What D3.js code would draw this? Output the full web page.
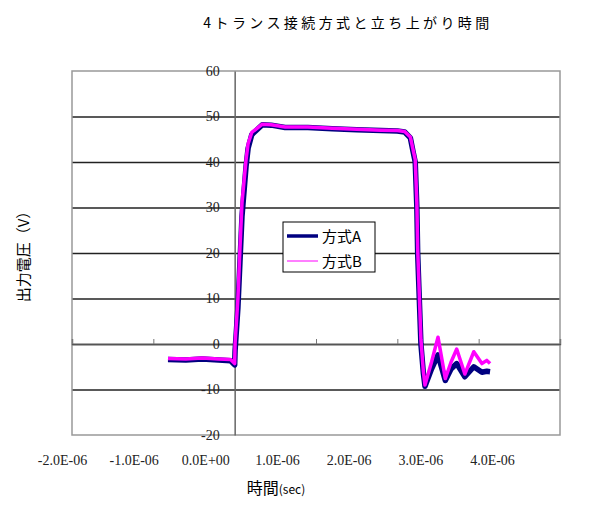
<!DOCTYPE html>
<html>
<head>
<meta charset="utf-8">
<script src="https://cdn.jsdelivr.net/npm/d3@7"></script>
<style>
body { margin: 0; background: #fff; }
text { font-family: "Liberation Serif", serif; }
.jp { font-family: "Noto Sans CJK JP", sans-serif; }
</style>
</head>
<body>
<svg width="595" height="509"></svg>
<script>
var timeUs = [-0.82, -0.6, -0.4, -0.2, -0.05, 0, 0.005, 0.04, 0.065, 0.09, 0.14, 0.165, 0.21, 0.34,
              0.45, 0.62, 0.9, 1.2, 1.5, 1.8, 2.0, 2.09, 2.16, 2.19, 2.22, 2.24, 2.25, 2.27, 2.29,
              2.32, 2.34, 2.42, 2.5, 2.59, 2.66, 2.73, 2.83, 2.94, 3.04, 3.1, 3.14];
var seriesA = [-3.4, -3.5, -3.3, -3.5, -3.7, -4.6, -1.5, 8, 18, 28, 39, 43, 46, 48.2,
               48.1, 47.6, 47.6, 47.3, 47.1, 46.9, 46.8, 46.6, 45.3, 42.6, 40, 30, 20, 10, 0,
               -6.4, -9.3, -5.5, -2.4, -8.0, -5.5, -4.3, -7.2, -5.0, -6.2, -6.0, -6.1];
var seriesB = [-3.2, -3.3, -3.1, -3.3, -3.4, -4.3, 0, 10, 21, 31, 40.5, 44, 46.5, 48.3,
               48.2, 47.7, 47.7, 47.4, 47.2, 47.0, 46.9, 46.7, 45.5, 43, 40.5, 31, 21, 11, 1,
               -6, -9.0, -4, 1.5, -7.6, -4, -1.1, -6.6, -1.7, -4.3, -3.6, -4.3];
var seriesNames = ["方式A", "方式B"];
var xTicks = [-2e-6, -1e-6, 0, 1e-6, 2e-6, 3e-6, 4e-6];
var yTicks = [-20, -10, 0, 10, 20, 30, 40, 50, 60];

var svg = d3.select("svg");
var plotLeft = 72, plotRight = 560, plotTop = 71, plotBottom = 435;

var x = d3.scaleLinear().domain([-2e-6, 4e-6]).range([plotLeft, plotRight]);
var xLabel = d3.scaleLinear().domain([-2e-6, 4e-6]).range([62, 492]);
var y = d3.scaleLinear().domain([-20, 60]).range([plotBottom, plotTop]);

// gridlines
svg.append("g")
   .attr("transform", "translate(" + plotLeft + ",0)")
   .call(d3.axisRight(y).tickValues(yTicks.slice(1, -1)).tickSize(plotRight - plotLeft).tickFormat(""))
   .call(function(g) { g.select(".domain").remove(); })
   .selectAll("line")
   .attr("stroke", "#222")
   .attr("stroke-width", 1.4);

svg.append("rect")
   .attr("x", plotLeft).attr("y", plotTop)
   .attr("width", plotRight - plotLeft).attr("height", plotBottom - plotTop)
   .attr("fill", "none")
   .attr("stroke", "#999")
   .attr("stroke-width", 1.5);

// zero line with ticks
svg.append("g")
   .attr("transform", "translate(0," + y(0) + ")")
   .call(d3.axisTop(x).tickValues(xTicks).tickSize(5).tickFormat(""))
   .call(function(g) {
       g.select(".domain").attr("stroke", "#555").attr("stroke-width", 1.4);
       g.selectAll("line").attr("stroke", "#777");
   });

// y axis at x = 0
svg.append("g")
   .attr("transform", "translate(" + x(0) + ",0)")
   .call(d3.axisLeft(y).tickValues(yTicks).tickSize(0).tickPadding(15)
           .tickFormat(function(d) { return String(d); }))
   .call(function(g) {
       g.select(".domain").attr("stroke", "#666").attr("stroke-width", 1.5);
       g.selectAll("text").attr("font-size", 14).attr("fill", "#222")
        .attr("font-family", "Liberation Serif, serif");
   });

svg.append("g")
   .attr("transform", "translate(0,455)")
   .call(d3.axisBottom(xLabel).tickValues(xTicks).tickSize(0).tickPadding(0)
           .tickFormat(function(d) { return d.toExponential(1).replace("e", "E").replace(/E([+-])(\d)$/, "E$10$2"); }))
   .call(function(g) {
       g.select(".domain").remove();
       g.selectAll("text").attr("font-size", 14).attr("fill", "#222")
        .attr("font-family", "Liberation Serif, serif");
   });

var line = d3.line()
    .x(function(d) { return x(d[0] * 1e-6); })
    .y(function(d) { return y(d[1]); });

svg.append("path")
   .datum(d3.zip(timeUs, seriesA))
   .attr("d", line)
   .attr("fill", "none")
   .attr("stroke", "#000080")
   .attr("stroke-width", 5.5)
   .attr("stroke-linejoin", "round");

svg.append("path")
   .datum(d3.zip(timeUs, seriesB))
   .attr("d", line)
   .attr("fill", "none")
   .attr("stroke", "#ff00ff")
   .attr("stroke-width", 3.5)
   .attr("stroke-linejoin", "round");

// legend
var legend = svg.append("g").attr("transform", "translate(283,222)");
legend.append("rect")
      .attr("width", 92).attr("height", 50)
      .attr("fill", "#fff").attr("stroke", "#000").attr("stroke-width", 1);
var legendColors = ["#000080", "#ff55ff"];
var legendWidths = [3.5, 1.5];
seriesNames.forEach(function(name, i) {
    legend.append("line")
          .attr("x1", 4).attr("x2", 35)
          .attr("y1", 14 + i * 25).attr("y2", 14 + i * 25)
          .attr("stroke", legendColors[i])
          .attr("stroke-width", legendWidths[i]);
    legend.append("text")
          .attr("class", "jp")
          .attr("x", 39).attr("y", 20 + i * 25)
          .attr("font-size", 15)
          .text(name);
});

svg.append("text")
   .attr("class", "jp")
   .attr("x", 348).attr("y", 28)
   .attr("text-anchor", "middle")
   .attr("font-size", 14)
   .attr("letter-spacing", 3.4)
   .text("4トランス接続方式と立ち上がり時間");

svg.append("text")
   .attr("class", "jp")
   .attr("transform", "translate(29,253) rotate(-90)")
   .attr("text-anchor", "middle")
   .attr("font-size", 15)
   .text("出力電圧（V）");

var xt = svg.append("text")
   .attr("class", "jp")
   .attr("x", 276).attr("y", 494)
   .attr("text-anchor", "middle");
xt.append("tspan").attr("font-size", 16).text("時間");
xt.append("tspan").attr("font-size", 12).text("(sec)");
</script>
</body>
</html>
